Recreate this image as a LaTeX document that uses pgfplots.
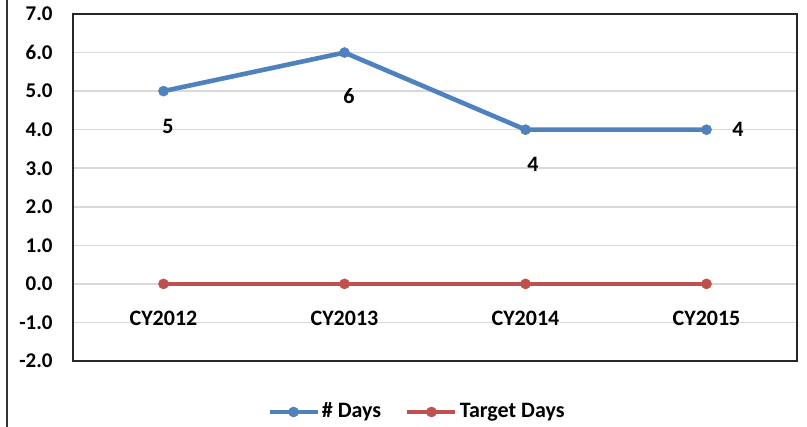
\documentclass[border=0pt]{standalone}
\usepackage{fontspec}
\setmainfont{Carlito}
\usepackage{pgfplots}
\pgfplotsset{compat=1.18}
\definecolor{sblue}{RGB}{79,129,189}
\definecolor{sred}{RGB}{192,80,77}
\definecolor{gridgray}{RGB}{217,217,217}
\begin{document}
\begin{tikzpicture}
\path[use as bounding box] (0,0) rectangle (403.5pt,-213.5pt);
\draw[black!80, line width=0.8pt] (3.5pt,0) -- (3.5pt,-213.5pt);
\begin{axis}[
  at={(36.5pt,-7pt)}, anchor=north west,
  scale only axis, width=362pt, height=173.5pt,
  xmin=-0.5, xmax=3.5, ymin=-2, ymax=7,
  xtick={0,1,2,3}, xticklabels={CY2012,CY2013,CY2014,CY2015},
  ytick={-2,-1,0,1,2,3,4,5,6,7},
  major tick length=0pt,
  ymajorgrids, grid style={gridgray, line width=0.75pt},
  axis line style={black!85, line width=0.75pt},
  /pgf/number format/assume math mode=true,
  yticklabel={\pgfmathprintnumber[fixed,fixed zerofill,precision=1]{\tick}},
  yticklabel style={font=\bfseries\fontsize{10.5}{12}\selectfont, anchor=east, inner sep=0pt, xshift=-10pt},
  xticklabel style={font=\bfseries\fontsize{11}{13}\selectfont, anchor=center, inner sep=0pt, yshift=21.5pt},
  legend style={at={(0.475,-0.147)}, anchor=center, draw=none, fill=none,
    font=\bfseries\fontsize{11}{13}\selectfont, legend columns=2,
    /tikz/every even column/.append style={column sep=11pt},
    nodes={inner sep=1pt}},
  legend image code/.code={\draw[mark repeat=2,mark phase=2,#1] plot coordinates {(0pt,0pt) (12pt,0pt) (24pt,0pt)};},
  clip=false,
]
\addplot[sblue, line width=2.3pt, mark=*, mark size=2.5pt, mark options={line width=0.3pt}] coordinates {(0,5) (1,6) (2,4) (3,4)};
\addplot[sred, line width=2.3pt, mark=*, mark size=2.5pt, mark options={line width=0.3pt}] coordinates {(0,0) (1,0) (2,0) (3,0)};
\legend{\# Days, Target Days}
\node[font=\bfseries\fontsize{11}{13}\selectfont] at (axis cs:0.025,4.08) {5};
\node[font=\bfseries\fontsize{11}{13}\selectfont] at (axis cs:1.025,4.86) {6};
\node[font=\bfseries\fontsize{11}{13}\selectfont] at (axis cs:2.041,3.09) {4};
\node[font=\bfseries\fontsize{11}{13}\selectfont] at (axis cs:3.174,4.0) {4};
\end{axis}
\end{tikzpicture}
\end{document}
